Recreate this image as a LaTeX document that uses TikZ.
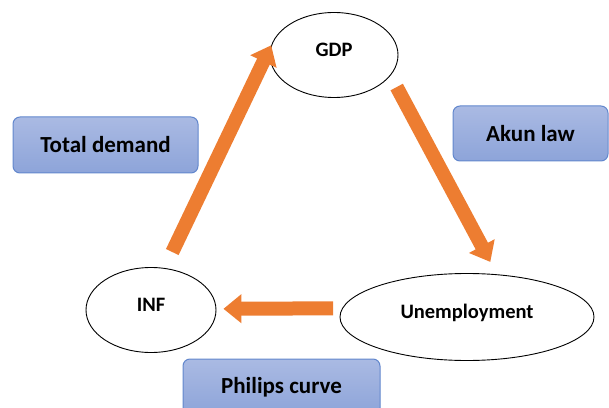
\documentclass[tikz,border=0pt]{standalone}
\usepackage{fontspec}
\setmainfont{Carlito}
\usepackage{tikz}
\usetikzlibrary{arrows.meta,shapes.geometric}

\definecolor{arroworange}{RGB}{237,125,49}
\definecolor{boxtop}{RGB}{170,186,227}
\definecolor{boxbottom}{RGB}{141,164,217}
\definecolor{boxline}{RGB}{98,135,205}

\begin{document}
\begin{tikzpicture}[x=1pt, y=1pt,
    var/.style={ellipse, draw=black, line width=0.9pt, inner sep=0pt, text height=15pt, text depth=12pt, font=\fontsize{20.5}{24}\selectfont\bfseries},
    law/.style={rectangle, rounded corners=7pt, draw=boxline, line width=1pt, top color=boxtop, bottom color=boxbottom, inner sep=0pt, minimum height=56pt, font=\fontsize{23}{27}\selectfont\bfseries},
    flow/.style={draw=arroworange, line width=14pt, -{Triangle[width=28pt, length=18pt]}}]
    \useasboundingbox (0,0) rectangle (609,407);

    % The three quantities
    \node (gdp) at (334, 352) [var, minimum width=128pt, minimum height=85pt] {GDP};
    \node (inf) at (151, 97) [var, minimum width=130pt, minimum height=85pt] {INF};
    \node (unemp) at (467, 90) [var, minimum width=254pt, minimum height=87pt] {Unemployment};

    % The laws linking them
    \node (totdemand) at (105.5, 262) [law, minimum width=185pt] {Total demand};
    \node (akun) at (530.5, 273.5) [law, minimum width=155pt, minimum height=55pt] {Akun law};
    \node (philips) at (281.5, 20) [law, minimum width=197pt] {Philips curve};

    % The cycle
    \draw[flow, shorten <=17.7pt, shorten >=7pt] (inf.72) -- (gdp.165);
    \draw[flow, shorten <=13pt, shorten >=14pt] (gdp.-20) -- (unemp.55);
    \draw[flow, shorten <=9pt, shorten >=7pt] (unemp.176) -- (inf.1);
\end{tikzpicture}
\end{document}
